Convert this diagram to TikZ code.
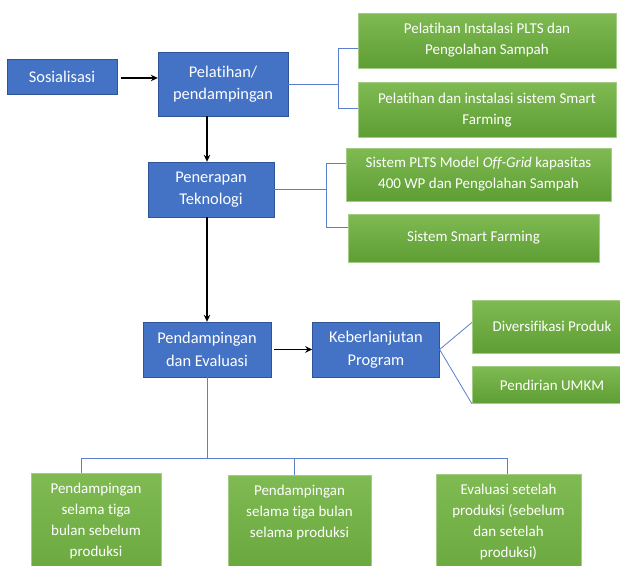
\documentclass[tikz,border=0pt]{standalone}
\usepackage{fontspec}
\setmainfont{Carlito}[Ligatures=NoCommon]
\usetikzlibrary{arrows.meta, positioning}
\definecolor{boxblue}{HTML}{4472C4}
\definecolor{boxblueline}{HTML}{2F5597}
\definecolor{grntop}{HTML}{7FBA52}
\definecolor{grnbot}{HTML}{5E9E34}
\definecolor{grnline}{HTML}{A3CC85}
\definecolor{linkblue}{HTML}{5B7FD0}

\begin{document}
\begin{tikzpicture}[x=1pt, y=-1pt, >={Stealth[length=7pt, width=6.5pt]},
  bluebox/.style={draw=boxblueline, fill=boxblue, text=white, align=center,
                  inner sep=0pt, font=\fontsize{16.4}{22.5}\selectfont},
  greenbox/.style={draw=grnline, top color=grntop, bottom color=grnbot,
                   text=white, align=center, inner sep=0pt,
                   font=\fontsize{15}{21}\selectfont},
  lowbox/.style={greenbox, anchor=north, inner ysep=10pt, text depth=70pt},
  flow/.style={->, line width=1.6pt},
  link/.style={draw=linkblue, line width=0.8pt}]
  \useasboundingbox (0,0) rectangle (620,565);

  \node[bluebox, minimum width=110pt, minimum height=35pt] (sos) at (62,76.5)
    {Sosialisasi};
  \node[bluebox, minimum width=130pt, minimum height=64pt] (pel) at (223,84)
    {Pelatihan/\\pendampingan};
  \node[bluebox, minimum width=126pt, minimum height=55pt] (pen) at (211,189.5)
    {Penerapan\\Teknologi};
  \node[bluebox, minimum width=128pt, minimum height=55pt] (pde) at (207,349.5)
    {Pendampingan\\dan Evaluasi};
  \node[bluebox, minimum width=127pt, minimum height=55pt, right=41pt of pde] (keb)
    {Keberlanjutan\\Program};

  \node[greenbox, minimum width=258pt, minimum height=55pt] (g1) at (487,40.5)
    {Pelatihan Instalasi PLTS dan\\Pengolahan Sampah};
  \node[greenbox, minimum width=258pt, minimum height=55pt, below=14pt of g1] (g2)
    {Pelatihan dan instalasi sistem Smart\\Farming};
  \node[greenbox, minimum width=265pt, minimum height=53pt] (g3) at (478.5,174.5)
    {Sistem PLTS Model \textit{Off-Grid} kapasitas\\400 WP dan Pengolahan Sampah};
  \node[greenbox, minimum width=251pt, minimum height=48pt] (g4) at (473.5,238)
    {Sistem Smart Farming};
  \node[greenbox, minimum width=160pt, minimum height=53pt] (div) at (552,326.5)
    {Diversifikasi Produk};
  \node[greenbox, minimum width=160pt, minimum height=37pt, below=13pt of div] (umkm)
    {Pendirian UMKM};

  \node[lowbox, minimum width=130pt] (b1) at (96,473)
    {Pendampingan\\selama tiga\\bulan sebelum\\produksi};
  \node[lowbox, minimum width=143pt] (b2) at (299.5,475)
    {Pendampingan\\selama tiga bulan\\selama produksi};
  \node[lowbox, minimum width=145pt] (b3) at (508.5,474)
    {Evaluasi setelah\\produksi (sebelum\\dan setelah\\produksi)};

  \draw[flow, shorten <=4pt] ([yshift=-1.5pt]sos.east) -- ([yshift=-1.5pt]sos.east -| pel.west);
  \draw[flow] (pel.south -| pde.north) -- (pen.north -| pde.north);
  \draw[flow] (pen.south -| pde.north) -- (pde.north);
  \draw[flow, shorten <=3pt] (pde.east) -- (keb.west);

  \draw[link] (pel.east) -- ++(50,0) coordinate (j1);
  \draw[link] ([yshift=-7.5pt]g1.west) -| (j1) |- ([yshift=1.5pt]g2.west);
  \draw[link] (pen.east) -- ++(52,0) coordinate (j2);
  \draw[link] ([yshift=11.5pt]g3.west) -| (j2) |- ([yshift=11pt]g4.west);
  \draw[link] (keb.east) -- ([yshift=4pt]div.west);
  \draw[link] (keb.east) -- (umkm.south west);
  \draw[link] (pde.south) -- ++(0,81) coordinate (j3);
  \draw[link] ([xshift=-15pt]b1.north) |- ([xshift=-1.5pt]b3.north |- j3)
    -- ([xshift=-1.5pt]b3.north);
  \draw[link] ([xshift=-5.5pt]b2.north) -- ([xshift=-5.5pt]b2.north |- j3);
\end{tikzpicture}
\end{document}
